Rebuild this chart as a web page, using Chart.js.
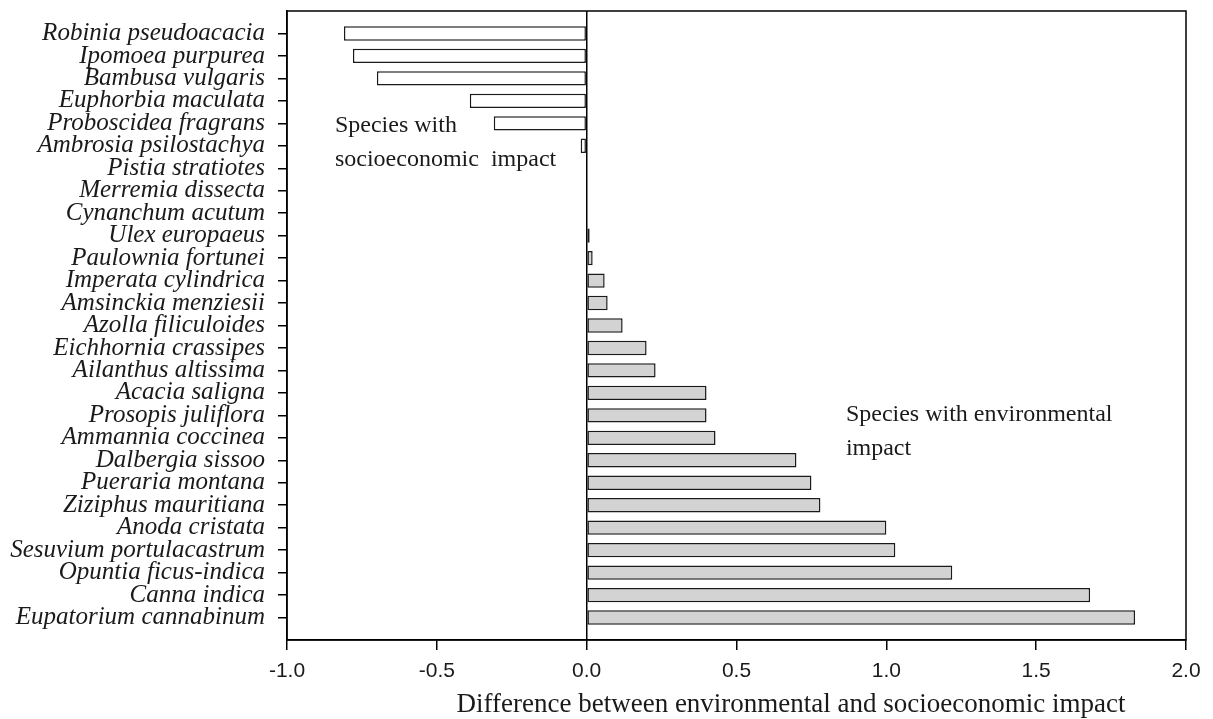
<!DOCTYPE html>
<html>
<head>
<meta charset="utf-8">
<script src="https://cdn.jsdelivr.net/npm/chart.js@4/dist/chart.umd.min.js"></script>
<style>
  html, body { margin: 0; padding: 0; background: #fff; }
  #wrap { width: 1213px; height: 719px; }
</style>
</head>
<body>
<div id="wrap"><canvas id="myChart"></canvas></div>
<script>
const species = [
    'Robinia pseudoacacia', 'Ipomoea purpurea', 'Bambusa vulgaris', 'Euphorbia maculata',
    'Proboscidea fragrans', 'Ambrosia psilostachya', 'Pistia stratiotes', 'Merremia dissecta',
    'Cynanchum acutum', 'Ulex europaeus', 'Paulownia fortunei', 'Imperata cylindrica',
    'Amsinckia menziesii', 'Azolla filiculoides', 'Eichhornia crassipes', 'Ailanthus altissima',
    'Acacia saligna', 'Prosopis juliflora', 'Ammannia coccinea', 'Dalbergia sissoo',
    'Pueraria montana', 'Ziziphus mauritiana', 'Anoda cristata', 'Sesuvium portulacastrum',
    'Opuntia ficus-indica', 'Canna indica', 'Eupatorium cannabinum'
];
const difference = [
    -0.81, -0.78, -0.70, -0.39, -0.31, -0.02, 0, 0, 0,
    0.01, 0.02, 0.06, 0.07, 0.12, 0.20, 0.23, 0.40, 0.40, 0.43,
    0.70, 0.75, 0.78, 1.00, 1.03, 1.22, 1.68, 1.83
];
const xTicks = [-1.0, -0.5, 0.0, 0.5, 1.0, 1.5, 2.0];
const xTitle = 'Difference between environmental and socioeconomic impact';
const notes = [
    { x: -0.84, y: 4.1, lines: ['Species with', 'socioeconomic  impact'] },
    { x: 0.865, y: 16.95, lines: ['Species with environmental', 'impact'] }
];

const ctx = document.getElementById('myChart').getContext('2d');

const extras = {
    id: 'extras',
    afterDraw(chart) {
        const c = chart.ctx;
        const a = chart.chartArea;
        const xs = chart.scales.x, ys = chart.scales.y;
        c.save();
        c.strokeStyle = '#000';
        c.lineWidth = 1.5;
        c.strokeRect(a.left, a.top, a.right - a.left, a.bottom - a.top);
        c.fillStyle = '#1a1a1a';
        c.font = '24px "Liberation Serif", "Times New Roman", serif';
        c.textBaseline = 'middle';
        c.textAlign = 'left';
        notes.forEach(n => {
            n.lines.forEach((t, i) => {
                c.fillText(t, xs.getPixelForValue(n.x), ys.getPixelForValue(n.y) + i * 34);
            });
        });
        c.font = '27px "Liberation Serif", "Times New Roman", serif';
        c.textAlign = 'center';
        c.fillText(xTitle, 791, 705);
        c.restore();
    }
};

new Chart(ctx, {
    type: 'bar',
    data: {
        datasets: [{
            data: difference.map((v, i) => ({ x: v, y: i })),
            backgroundColor: difference.map(v => v < 0 ? '#ffffff' : '#d3d3d3'),
            borderColor: '#1a1a1a',
            borderWidth: 1.5,
            borderSkipped: false,
            barPercentage: 0.64,
            categoryPercentage: 1.0
        }]
    },
    options: {
        indexAxis: 'y',
        responsive: true,
        maintainAspectRatio: false,
        animation: false,
        layout: { padding: { top: 11, right: 27, left: 0, bottom: 0 } },
        plugins: { legend: { display: false }, tooltip: { enabled: false } },
        scales: {
            x: {
                type: 'linear',
                min: -1.0,
                max: 2.0,
                afterBuildTicks: s => { s.ticks = xTicks.map(v => ({ value: v })); },
                afterFit: s => { s.height = 79; s.paddingLeft = 0; s.paddingRight = 0; },
                ticks: {
                    color: '#1a1a1a',
                    font: { family: '"Liberation Sans", Arial, sans-serif', size: 21 },
                    padding: 9,
                    callback: v => v.toFixed(1)
                },
                grid: {
                    drawOnChartArea: true,
                    color: c => (c.tick && c.tick.value === 0) ? '#000' : 'rgba(0,0,0,0)',
                    lineWidth: 1.5,
                    tickColor: '#000',
                    tickLength: 10
                },
                border: { display: true, color: '#000', width: 1.5 }
            },
            y: {
                type: 'linear',
                reverse: true,
                offset: false,
                min: -1,
                max: species.length,
                afterBuildTicks: s => {
                    const t = [];
                    for (let i = -1; i <= species.length; i++) t.push({ value: i });
                    s.ticks = t;
                },
                afterFit: s => { s.width = 287; s.paddingTop = 0; s.paddingBottom = 0; },
                ticks: {
                    autoSkip: false,
                    color: '#1a1a1a',
                    font: { family: '"Liberation Serif", "Times New Roman", serif', size: 25, style: 'italic' },
                    padding: 13,
                    callback: v => species[v] || ''
                },
                grid: {
                    offset: false,
                    drawOnChartArea: false,
                    tickColor: c => (c.tick && c.tick.value >= 0 && c.tick.value < species.length) ? '#000' : 'rgba(0,0,0,0)',
                    tickLength: 9,
                    lineWidth: 1.5
                },
                border: { display: true, color: '#000', width: 1.5 }
            }
        }
    },
    plugins: [extras]
});
</script>
</body>
</html>
